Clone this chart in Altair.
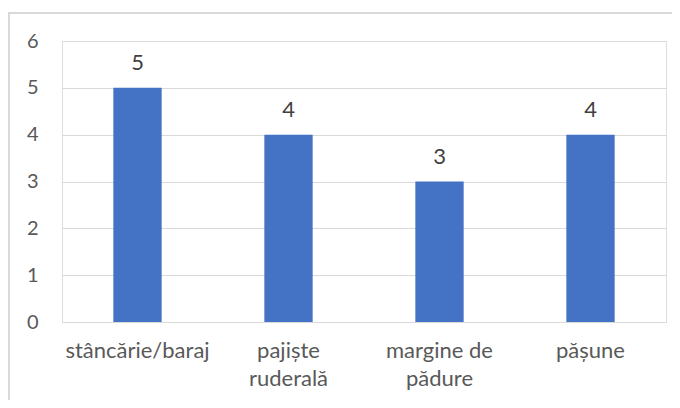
import altair as alt
import pandas as pd

categories = ["stâncărie/baraj", "pajiște ruderală", "margine de pădure", "pășune"]
values = [5, 4, 3, 4]

df = pd.DataFrame({"cat": categories, "val": values})

FONT = "Lato"
GRAY = "#595959"

x = alt.X(
    "cat:N",
    sort=categories,
    title=None,
    scale=alt.Scale(paddingInner=0.68, paddingOuter=0.34),
    axis=alt.Axis(
        labelAngle=0,
        labelFont=FONT,
        labelFontSize=22,
        labelColor=GRAY,
        labelPadding=18,
        labelLineHeight=28,
        labelBaseline="top",
        ticks=False,
        domainColor="#d9d9d9",
        labelExpr="datum.label == 'margine de pădure' ? ['margine de', 'pădure'] : datum.label == 'pajiște ruderală' ? ['pajiște', 'ruderală'] : datum.label",
    ),
)
y = alt.Y(
    "val:Q",
    title=None,
    scale=alt.Scale(domain=[0, 6]),
    axis=alt.Axis(
        values=[0, 1, 2, 3, 4, 5, 6],
        labelFont=FONT,
        labelFontSize=20,
        labelColor=GRAY,
        labelPadding=24,
        ticks=False,
        domain=False,
        gridColor="#d9d9d9",
    ),
)

bars = alt.Chart(df).mark_bar(color="#4472C4").encode(x=x, y=y)
text = alt.Chart(df).mark_text(
    dy=-25, font=FONT, fontSize=22, color="#404040"
).encode(x=x, y=y, text="val:Q")

frame = alt.Chart(df).mark_rect(
    fill=None, stroke="#d9d9d9", strokeWidth=1.5, clip=False
).encode(
    x=alt.value(-53), x2=alt.value(700), y=alt.value(-28), y2=alt.value(420)
)

chart = (
    alt.layer(frame, bars, text)
    .properties(
        width=604,
        height=281,
        autosize=alt.AutoSizeParams(type="none"),
        padding={"left": 54, "top": 33, "right": 6, "bottom": 78},
    )
    .configure_view(stroke=None)
    .configure(background="white")
)

chart.save("out.html", embed_options={"renderer": "svg", "actions": False})
